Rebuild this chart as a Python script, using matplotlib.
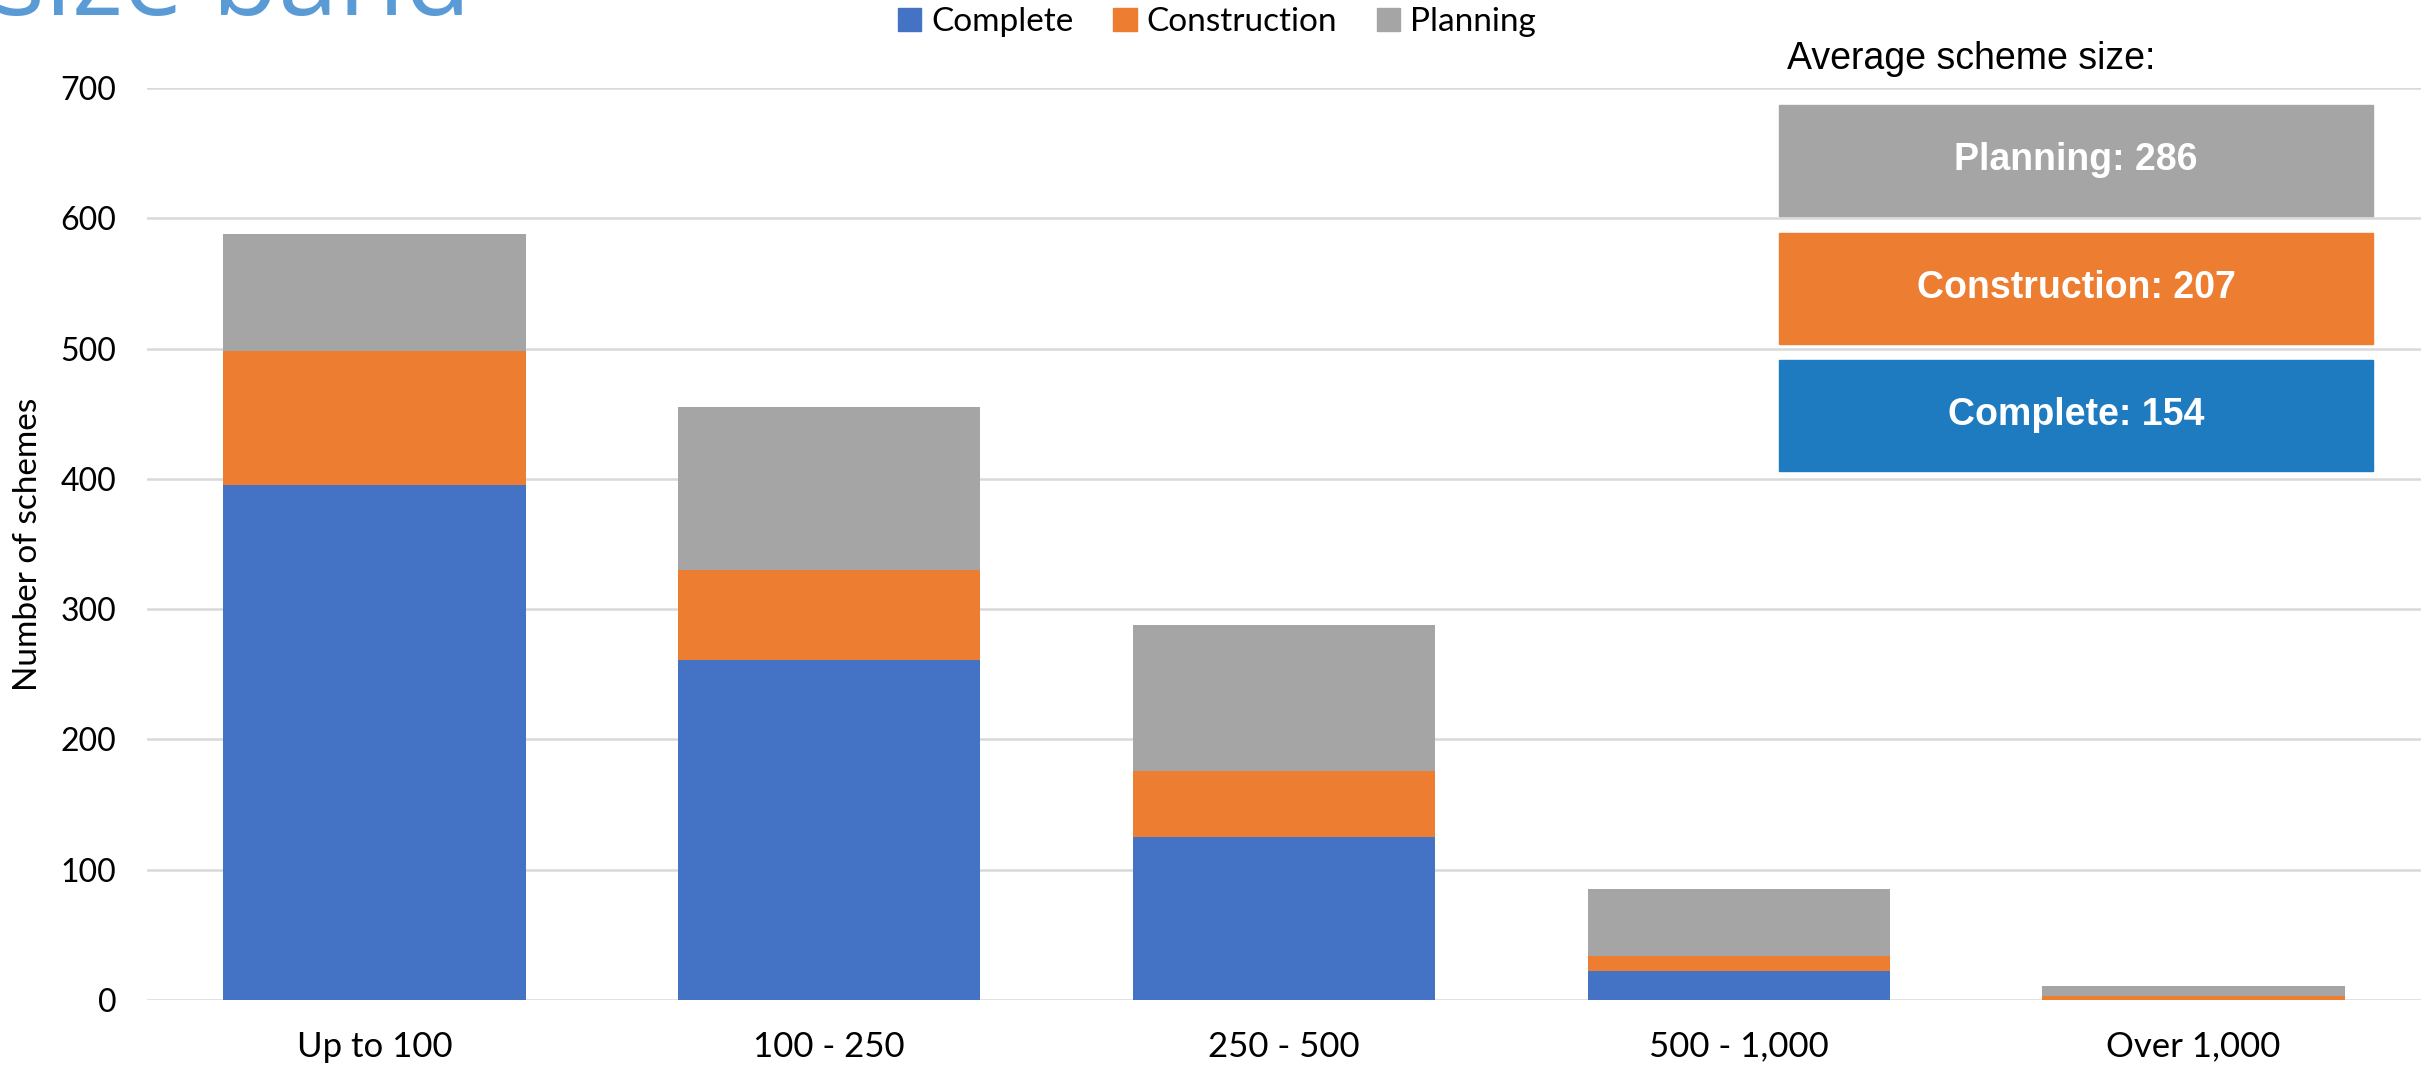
import matplotlib
matplotlib.use("Agg")
import matplotlib.pyplot as plt
from matplotlib.patches import Rectangle, Patch
import numpy as np

# ─── data ───
bands = ["Up to 100", "100 - 250", "250 - 500", "500 - 1,000", "Over 1,000"]
complete = [395, 261, 125, 22, 0]
construction = [103, 69, 51, 12, 3]
planning = [90, 125, 112, 51, 8]

avg_labels = ["Planning", "Construction", "Complete"]
avg_sizes = [286, 207, 154]

COL_COMPLETE = "#4472C4"
COL_CONSTR = "#ED7D31"
COL_PLAN = "#A5A5A5"
BOX_COLS = ["#A5A5A5", "#ED7D31", "#1F7BC0"]

plt.rcParams["font.family"] = ["Lato", "DejaVu Sans"]

W, H = 2432, 1069
fig = plt.figure(figsize=(W / 100, H / 100), dpi=100)
ax = fig.add_axes([147 / W, 1 - 1000 / H, (2421 - 147) / W, (1000 - 88) / H])

x = np.arange(len(bands))
bw = 0.665
c = np.array(complete)
k = np.array(construction)
p = np.array(planning)
ax.bar(x, c, bw, color=COL_COMPLETE, zorder=2)
ax.bar(x, k, bw, bottom=c, color=COL_CONSTR, zorder=2)
ax.bar(x, p, bw, bottom=c + k, color=COL_PLAN, zorder=2)

ax.set_xlim(-0.5, len(bands) - 0.5)
ax.set_ylim(0, 700)
ax.set_yticks(range(0, 701, 100))
ax.set_xticks(x)
ax.set_xticklabels(bands)
ax.yaxis.grid(True, color="#D9D9D9", lw=1.8, zorder=0)
ax.set_axisbelow(True)
for s in ax.spines.values():
    s.set_visible(False)
ax.tick_params(axis="both", length=0, colors="black")
ax.tick_params(axis="y", pad=22, labelsize=23)
ax.tick_params(axis="x", pad=22, labelsize=25)
ax.set_ylabel("Number of schemes", fontsize=24)
# anchor is the right edge of the rotated label
ax.yaxis.set_label_coords((43 - 147) / (2421 - 147), 0.5)

# legend above plot
handles = [Patch(color=COL_COMPLETE), Patch(color=COL_CONSTR), Patch(color=COL_PLAN)]
fig.legend(handles, ["Complete", "Construction", "Planning"], ncol=3,
           loc="center", bbox_to_anchor=(1217 / W, 1 - 22 / H), frameon=False,
           fontsize=24, handlelength=0.7, handleheight=0.7, handletextpad=0.3,
           columnspacing=1.2)

# cut-off title at the top
fig.text(-0.003, 1 - 15 / H, "size band", color="#5B9BD5", fontsize=78,
         family=["Open Sans", "DejaVu Sans"], va="baseline", ha="left")

# average scheme size panel
fig.text(1787 / W, 1 - 59 / H, "Average scheme size:", fontsize=27,
         family=["Liberation Sans", "DejaVu Sans"], va="center", ha="left")
box_tops = [105, 233, 360]
for lab, val, col, top in zip(avg_labels, avg_sizes, BOX_COLS, box_tops):
    fig.add_artist(Rectangle((1779 / W, 1 - (top + 111) / H), (2373 - 1779) / W, 111 / H,
                             transform=fig.transFigure, color=col, zorder=5))
    fig.text((1779 + 2373) / 2 / W, 1 - (top + 55) / H, f"{lab}: {val}", color="white",
             fontsize=27, fontweight="bold", family=["Liberation Sans", "DejaVu Sans"],
             ha="center", va="center", zorder=6)

fig.savefig("out.png", dpi=100)
